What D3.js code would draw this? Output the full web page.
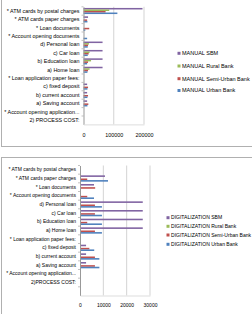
<!DOCTYPE html>
<html>
<head>
<meta charset="utf-8">
<script src="https://cdn.jsdelivr.net/npm/d3@7"></script>
<style>
  body { margin: 0; background: #fff; }
  svg text { font-family: "Liberation Sans Narrow", "Arial Narrow", "Liberation Sans", sans-serif; fill: #000; }
</style>
</head>
<body>
<script>
// categories, top to bottom as they show on the chart
var categories = [
    "* ATM cards by postal charges",
    "* ATM cards paper charges",
    "* Loan documents",
    "* Account opening documents",
    "d) Personal loan",
    "c) Car loan",
    "b) Education loan",
    "a) Home loan",
    "* Loan application paper fees:",
    "c) fixed deposit",
    "b) current account",
    "a) Saving account",
    "* Account opening application...",
    "2) PROCESS COST:"
];

var seriesNames = ["SBM", "Rural Bank", "Semi-Urban Bank", "Urban Bank"];
var seriesColors = ["#8064A2", "#9BBB59", "#C0504D", "#4F81BD"];

// MANUAL chart
var manualSBM   = [195000, 15000, 0, 0, 63000, 63000, 63000, 63000, 0, 12000, 12000, 12000, 0, 0];
var manualRural = [85000, 0, 0, 0, 18000, 20000, 25000, 20000, 0, 0, 0, 0, 0, 0];
var manualSemi  = [73000, 12000, 19000, 0, 15000, 17000, 15000, 15000, 0, 15000, 15000, 16000, 0, 0];
var manualUrban = [112000, 13000, 6000, 12000, 14000, 14000, 12000, 13000, 0, 13000, 13000, 13000, 0, 0];
var manualTicks = [0, 100000, 200000];

// DIGITALIZATION chart
var digiSBM   = [0, 10700, 6000, 0, 26900, 26900, 26900, 26900, 0, 2600, 2600, 2600, 0, 0];
var digiRural = [0, 0, 0, 0, 0, 0, 0, 0, 0, 0, 0, 0, 0, 0];
var digiSemi  = [0, 3100, 6500, 3100, 6400, 6400, 3100, 6400, 0, 4000, 6400, 6400, 0, 0];
var digiUrban = [0, 12000, 0, 6000, 9400, 9400, 9400, 9400, 0, 6100, 8300, 8300, 0, 0];
var digiTicks = [0, 10000, 20000, 30000];

var svg = d3.select("body").append("svg")
    .attr("width", 252)
    .attr("height", 314);

function drawChart(opt) {
    var g = svg.append("g");

    // chart frame
    g.append("rect")
        .attr("x", opt.frame[0]).attr("y", opt.frame[1])
        .attr("width", opt.frame[2]).attr("height", opt.frame[3])
        .attr("fill", "#fff").attr("stroke", "#b0b0b0").attr("stroke-width", 1);

    var cats = opt.categories;
    var y0 = d3.scaleBand()
        .domain(cats)
        .range([opt.top, opt.bottom])
        .paddingInner(1.5 / 5.5)
        .paddingOuter(0.75 / 5.5);
    var y1 = d3.scaleBand()
        .domain(d3.range(4))
        .range([0, y0.bandwidth()]);
    var x = d3.scaleLinear()
        .domain([0, opt.max])
        .range([opt.left, opt.right]);

    // gridlines
    g.selectAll(".grid").data(opt.ticks.slice(1)).enter().append("line")
        .attr("x1", d => x(d)).attr("x2", d => x(d))
        .attr("y1", opt.top).attr("y2", opt.bottom)
        .attr("stroke", "#c8c8c8").attr("stroke-width", 0.8);

    // bars
    for (var s = 0; s < 4; s++) {
        g.selectAll(".bar" + s).data(opt.values[s]).enter().append("rect")
            .attr("x", x(0))
            .attr("y", (d, i) => y0(cats[i]) + y1(s))
            .attr("width", d => x(d) - x(0))
            .attr("height", y1.bandwidth())
            .attr("fill", seriesColors[s]);
    }

    // category axis
    var yAxis = d3.axisLeft(y0).tickSize(2).tickSizeOuter(0).tickPadding(2);
    var ya = g.append("g").attr("transform", "translate(" + opt.left + ",0)").call(yAxis);
    ya.select(".domain").attr("stroke", "#999");
    ya.selectAll(".tick line").remove();
    ya.selectAll(".tick text").attr("font-size", opt.font).attr("fill", "#000");
    // small tick marks at the category edges
    g.selectAll(".cedge").data(cats).enter().append("line")
        .attr("x1", opt.left - 2).attr("x2", opt.left)
        .attr("y1", d => y0(d) - y0.step() * y0.paddingOuter())
        .attr("y2", d => y0(d) - y0.step() * y0.paddingOuter())
        .attr("stroke", "#999").attr("stroke-width", 0.6);

    // value axis
    var xAxis = d3.axisBottom(x).tickValues(opt.ticks).tickSize(0).tickPadding(opt.tickPad).tickFormat(d3.format("d"));
    var xa = g.append("g").attr("transform", "translate(0," + opt.bottom + ")").call(xAxis);
    xa.select(".domain").attr("stroke", "#ddd");
    xa.selectAll(".tick text").attr("font-size", opt.font).attr("fill", "#000");

    // legend
    var lg = g.append("g");
    seriesNames.forEach(function (name, i) {
        var ly = opt.legendY[i];
        lg.append("rect")
            .attr("x", opt.legendX).attr("y", ly - 1.5)
            .attr("width", 3).attr("height", 3)
            .attr("fill", seriesColors[i]);
        lg.append("text")
            .attr("x", opt.legendX + 4.5).attr("y", ly)
            .attr("dy", "0.35em")
            .attr("font-size", opt.legendFont)
            .text(opt.prefix + " " + name);
    });
}

drawChart({
    frame: [1.5, -1, 252, 147.5],
    categories: categories,
    values: [manualSBM, manualRural, manualSemi, manualUrban],
    max: 200000,
    ticks: manualTicks,
    top: 6.8, bottom: 124.4,
    left: 83.5, right: 144,
    tickPad: 9,
    font: 5.4,
    legendFont: 5.5,
    legendX: 177.5,
    legendY: [53.3, 66, 78.7, 90.5],
    prefix: "MANUAL"
});

var digiCats = categories.slice();
digiCats[categories.length - 1] = "2)PROCESS COST:";
digiCats.push(" ");

drawChart({
    frame: [1.5, 157.5, 252, 160],
    categories: digiCats,
    values: [digiSBM, digiRural, digiSemi, digiUrban],
    max: 30000,
    ticks: digiTicks,
    top: 165.5, bottom: 295.5,
    left: 80, right: 150,
    tickPad: 8,
    font: 5,
    legendFont: 5.05,
    legendX: 166.5,
    legendY: [217.7, 226.3, 235, 244.3],
    prefix: "DIGITALIZATION"
});
</script>
</body>
</html>
